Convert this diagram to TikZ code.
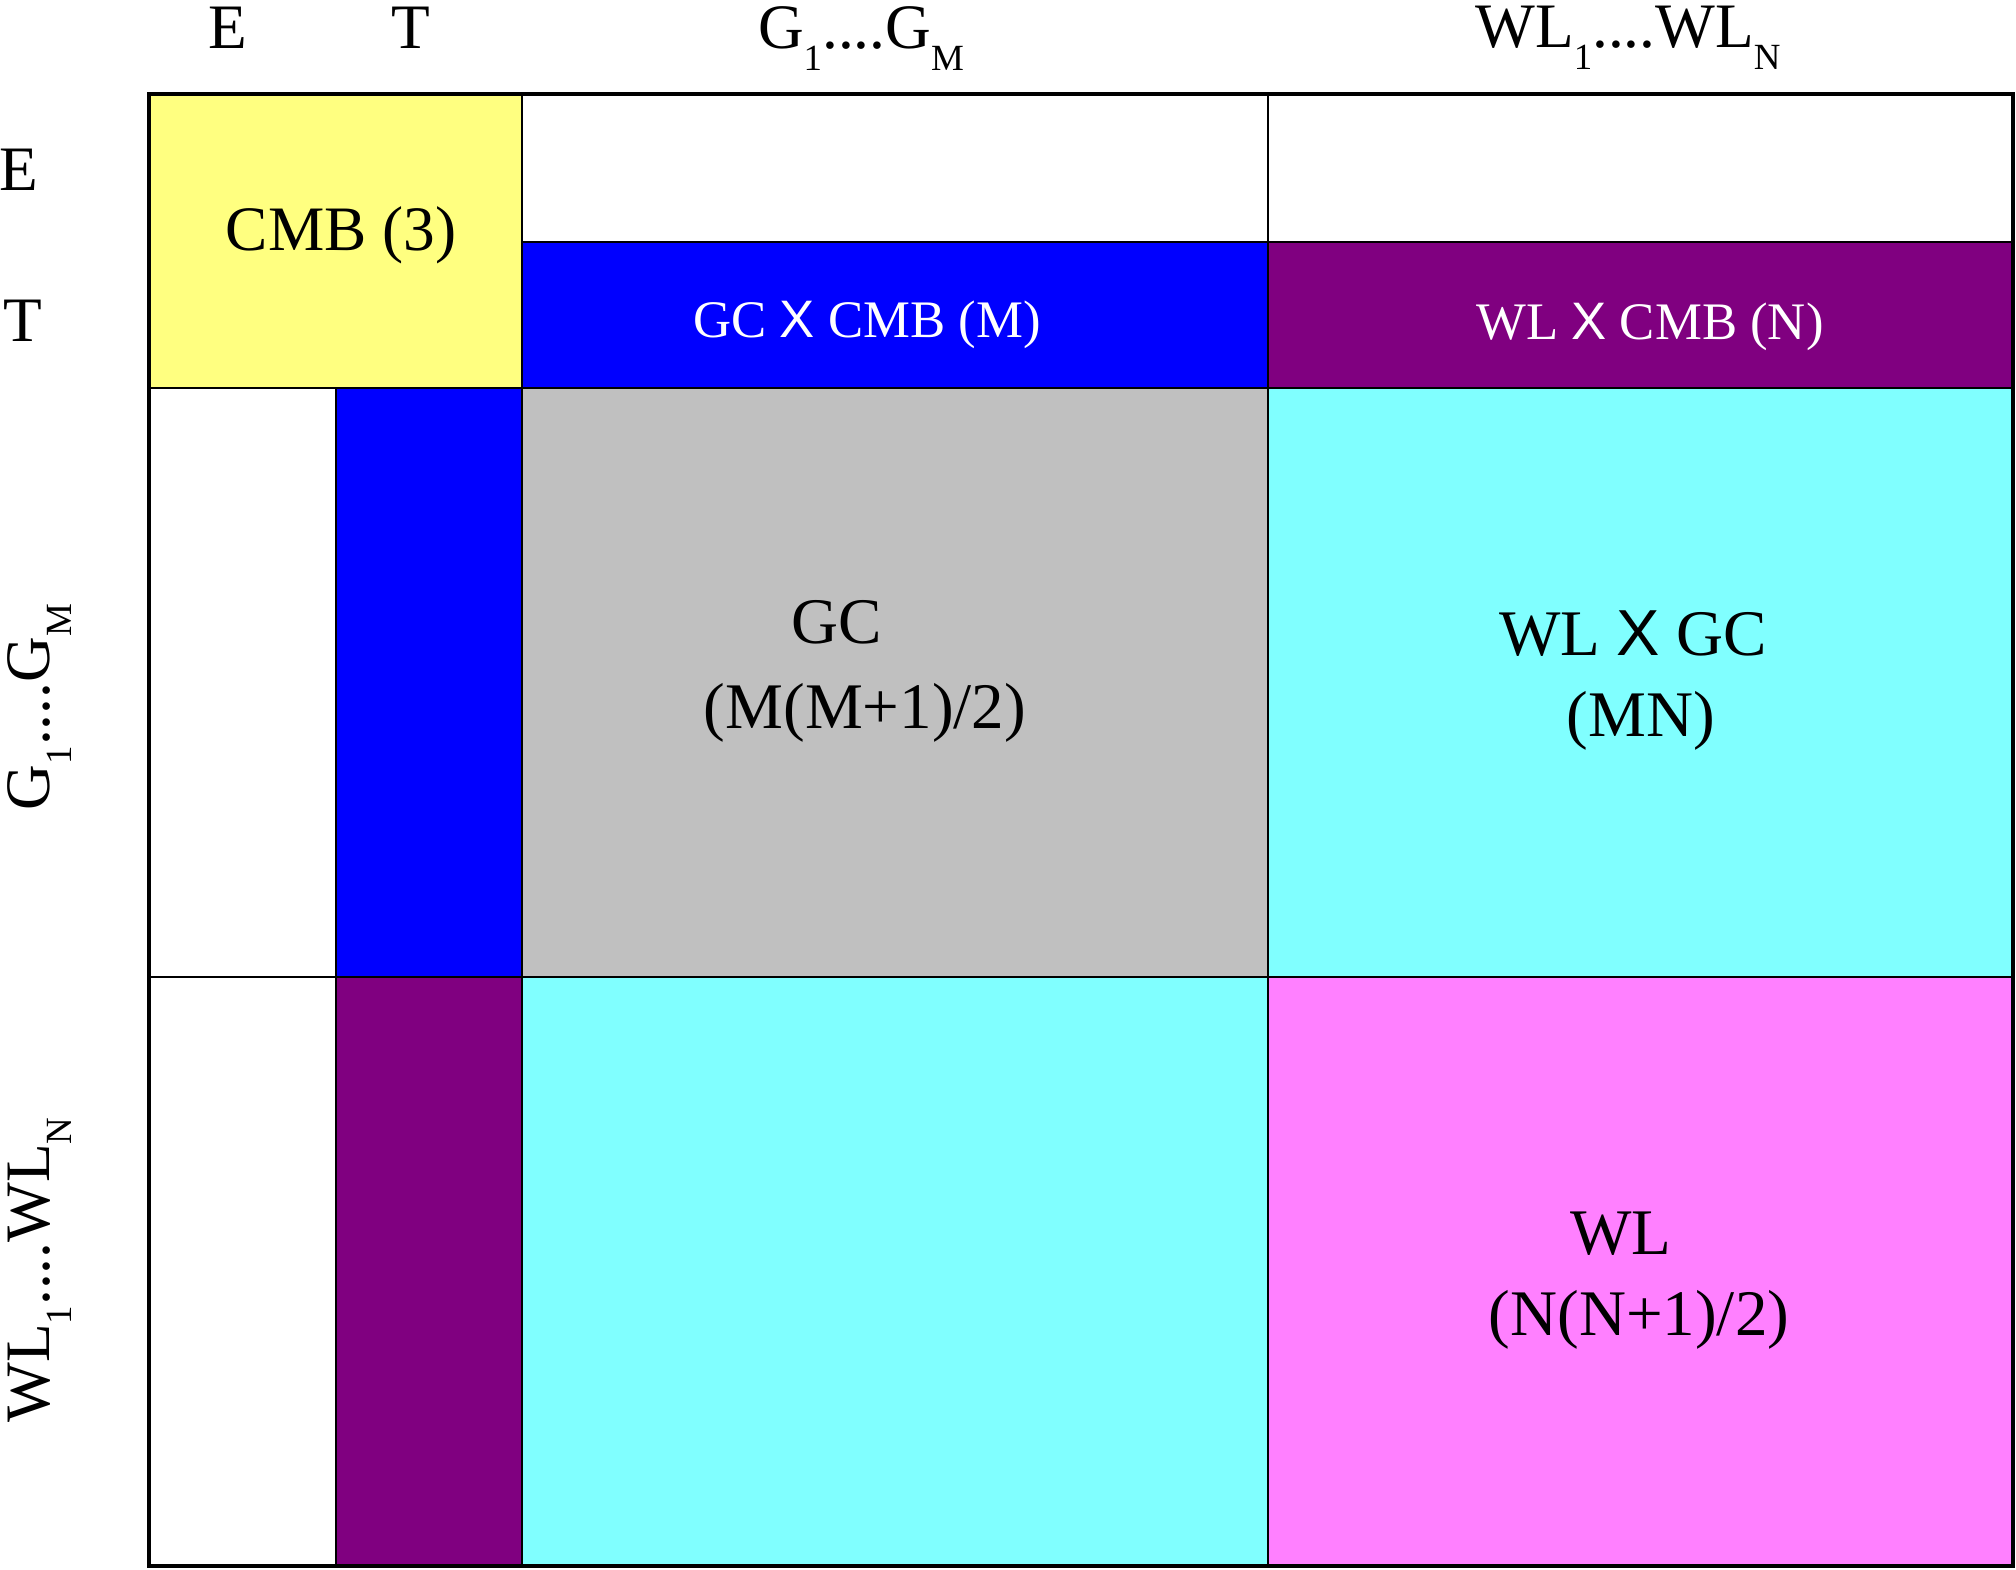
\documentclass[tikz,border=0pt]{standalone}
\usepackage{fontspec}
\setmainfont{Liberation Serif}
\newfontfamily\xfont{Liberation Sans}
\usepackage{xcolor}
\usepackage{tikz}

\definecolor{cmbyellow}{HTML}{FFFF80}
\definecolor{gcblue}{HTML}{0000FF}
\definecolor{wlpurple}{HTML}{800080}
\definecolor{gcgray}{HTML}{C0C0C0}
\definecolor{crosscyan}{HTML}{80FFFF}
\definecolor{wlpink}{HTML}{FF80FF}

\newcommand{\lsub}[1]{\raisebox{-6.5pt}{\fontsize{10.5}{12}\selectfont #1}}
\newcommand{\tx}{{\xfont X}}

\tikzset{
  cell/.style={draw=black, line width=0.6pt},
  thinline/.style={draw=black, line width=0.35pt},
  biglbl/.style={font=\fontsize{18}{20}\selectfont, inner sep=0pt, anchor=base},
  celllbl/.style={font=\fontsize{18.5}{20}\selectfont, inner sep=0pt, anchor=base},
  whitelbl/.style={font=\fontsize{15}{17}\selectfont, text=white, inner sep=0pt, anchor=base}
}

\begin{document}
\begin{tikzpicture}[x=0.01cm, y=-0.01cm]
    \useasboundingbox (0,0) rectangle (2016,1569);

    % CMB block
    \filldraw[cell, fill=cmbyellow] (149,94) rectangle (522,388);

    % CMB cross rows
    \filldraw[cell, fill=gcblue] (522,242) rectangle (1268,388);
    \filldraw[cell, fill=wlpurple] (1268,242) rectangle (2013,388);
    \draw[thinline] (1268,94) -- (1268,242);

    % CMB cross columns
    \filldraw[cell, fill=gcblue] (336,388) rectangle (522,977);
    \filldraw[cell, fill=wlpurple] (336,977) rectangle (522,1566);
    \draw[thinline] (149,977) -- (336,977);

    % GC and WL blocks
    \filldraw[cell, fill=gcgray] (522,388) rectangle (1268,977);
    \filldraw[cell, fill=crosscyan] (1268,388) rectangle (2013,977);
    \filldraw[cell, fill=crosscyan] (522,977) rectangle (1268,1566);
    \filldraw[cell, fill=wlpink] (1268,977) rectangle (2013,1566);

    % Outer frame
    \draw[line width=1pt] (149,94) rectangle (2013,1566);

    % Column headers
    \node[biglbl] (colE) at (228,48) {E};
    \node[biglbl] (colT) at (411,48) {T};
    \node[biglbl] (colG) at (861,48) {G\lsub{1}....G\lsub{M}};
    \node[biglbl] (colW) at (1628,47) {WL\lsub{1}....WL\lsub{N}};

    % Row headers
    \node[biglbl] (rowE) at (19,190) {E};
    \node[biglbl] (rowT) at (23,341) {T};
    \node[biglbl, rotate=90] (rowG) at (49,707) {G\lsub{1}....G\lsub{M}};
    \node[biglbl, rotate=90] (rowW) at (49,1270) {WL\lsub{1}....WL\lsub{N}};

    % Cell labels
    \node[biglbl] (cmb) at (341,250) {CMB (3)};
    \node[whitelbl] (gccmb) at (867,337) {GC \tx\ CMB (M)};
    \node[whitelbl] (wlcmb) at (1650,339) {WL \tx\ CMB (N)};
    \node[celllbl] (gcA) at (837,643) {GC};
    \node[celllbl] (gcB) at (865,728) {(M(M+1)/2)};
    \node[celllbl] (wlgcA) at (1633,655) {WL \tx\ GC};
    \node[celllbl] (wlgcB) at (1641,736) {(MN)};
    \node[celllbl] (wlA) at (1621,1254) {WL};
    \node[celllbl] (wlB) at (1639,1335) {(N(N+1)/2)};
\end{tikzpicture}
\end{document}
